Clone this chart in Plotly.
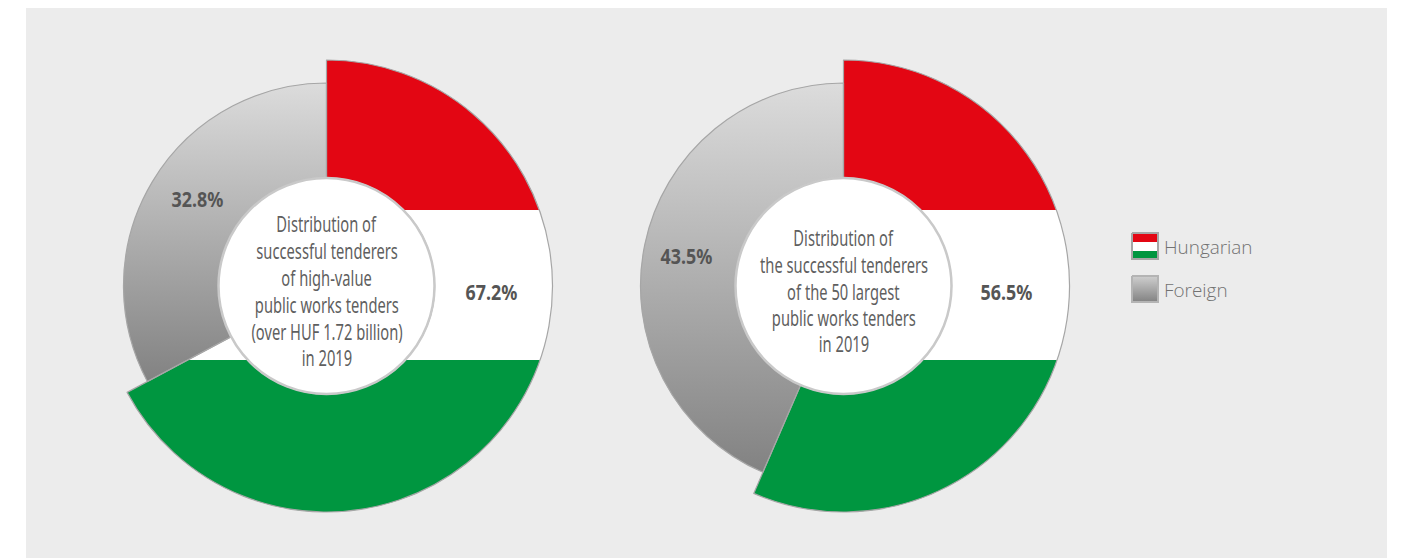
import math
import plotly.graph_objects as go

# ---- data ----
chart_names = ["high-value tenders", "50 largest tenders"]
hungarian = [67.2, 56.5]
foreign = [32.8, 43.5]
series_names = ["Hungarian", "Foreign"]
center_lines = [
    ["Distribution of", "successful tenderers", "of high-value", "public works tenders",
     "(over HUF 1.72 billion)", "in 2019"],
    ["Distribution of", "the successful tenderers", "of the 50 largest",
     "public works tenders", "in 2019"],
]
center_line_y = [
    [223.5, 250.5, 277.5, 304.5, 331.5, 357.5],
    [237.5, 264.5, 291.5, 317.5, 343.5],
]
hungarian_label_pos = [(491.5, 292), (1006, 292)]
foreign_label_pos = [(197, 199), (686.5, 256)]

# ---- layout constants (pixels) ----
W, H = 1401, 558
CX = [326.5, 843.5]
CY = 286
R_OUT = 226
R_IN = 203
R_HOLE = 108
STRIPE_TOP, STRIPE_BOTTOM = 210, 360
RED, WHITE, GREEN = "#e30613", "#ffffff", "#009640"
GRAY_TOP, GRAY_BOTTOM = "#dcdcdc", "#828282"
EDGE = "#a6a6a6"
TEXT = "#5f5f5f"
BODY_FONT = "Noto Sans"
TEXT_SQUEEZE = 0.70
PCT_SQUEEZE = 0.85


def wedge(cx, start_pct, end_pct, radius):
    """Ring sector outline from the slice's share of the whole, clockwise from 12 o'clock."""
    n = 180
    a0, a1 = start_pct * 3.6, end_pct * 3.6
    xs, ys = [], []
    for i in range(n + 1):
        a = math.radians(a0 + (a1 - a0) * i / n)
        xs.append(cx + radius * math.sin(a))
        ys.append(CY - radius * math.cos(a))
    xs.append(cx)
    ys.append(CY)
    xs.append(xs[0])
    ys.append(ys[0])
    return xs, ys


def flag_scale(top, bottom, a, b):
    f = (a - top) / (bottom - top)
    g = (b - top) / (bottom - top)
    return [[0, RED], [f, RED], [f, WHITE], [g, WHITE], [g, GREEN], [1, GREEN]]


fig = go.Figure()

for k in range(2):
    cx = CX[k]
    # foreign slice with a vertical gradient
    xs, ys = wedge(cx, hungarian[k], 100, R_IN)
    fig.add_trace(go.Scatter(
        x=xs, y=ys, mode="none", fill="toself", name=series_names[1], showlegend=False,
        hoverinfo="skip",
        fillgradient=dict(type="vertical", start=min(ys), stop=max(ys),
                          colorscale=[[0, GRAY_TOP], [1, GRAY_BOTTOM]]),
    ))
    # Hungarian slice in flag colours
    xs, ys = wedge(cx, 0, hungarian[k], R_OUT)
    fig.add_trace(go.Scatter(
        x=xs, y=ys, mode="none", fill="toself", name=series_names[0], showlegend=False,
        hoverinfo="skip",
        fillgradient=dict(type="vertical", start=CY - R_OUT, stop=CY + R_OUT,
                          colorscale=flag_scale(CY - R_OUT, CY + R_OUT, STRIPE_TOP, STRIPE_BOTTOM)),
    ))
    # pies carry the values and draw the slice outlines
    for radius, vals, widths in (
        (R_IN, [hungarian[k], foreign[k]], [0, 1.2]),
        (R_OUT, [hungarian[k], foreign[k]], [1.2, 0]),
    ):
        fig.add_trace(go.Pie(
            labels=series_names, values=vals, sort=False, direction="clockwise", rotation=0,
            hole=R_HOLE / radius, textinfo="none", hoverinfo="skip", showlegend=False,
            domain=dict(x=[(cx - radius) / W, (cx + radius) / W],
                        y=[1 - (CY + radius) / H, 1 - (CY - radius) / H]),
            marker=dict(colors=["rgba(0,0,0,0)", "rgba(0,0,0,0)"],
                        line=dict(color=EDGE, width=widths)),
        ))

# legend swatches
SW_X0, SW_X1 = 1132, 1158
SW_Y = [233, 276]
SW_H = 26
xs = [SW_X0, SW_X1, SW_X1, SW_X0, SW_X0]
y0 = SW_Y[0]
fig.add_trace(go.Scatter(
    x=xs, y=[y0, y0, y0 + SW_H, y0 + SW_H, y0], mode="lines", fill="toself", hoverinfo="skip",
    line=dict(color=EDGE, width=2), showlegend=False, name=series_names[0],
    fillgradient=dict(type="vertical", start=y0, stop=y0 + SW_H,
                      colorscale=flag_scale(y0, y0 + SW_H, y0 + 9, y0 + 18)),
))
y0 = SW_Y[1]
fig.add_trace(go.Scatter(
    x=xs, y=[y0, y0, y0 + SW_H, y0 + SW_H, y0], mode="lines", fill="toself", hoverinfo="skip",
    line=dict(color="#b4b4b4", width=2), showlegend=False, name=series_names[1],
    fillgradient=dict(type="vertical", start=y0, stop=y0 + SW_H,
                      colorscale=[[0, "#cfcfcf"], [1, GRAY_BOTTOM]]),
))

shapes = [dict(type="rect", layer="below", x0=26, x1=1387, y0=8, y1=558,
               xref="x", yref="y", fillcolor="#ececec", line_width=0)]
annotations = []


def text(x, y, s, size, color, family, bold=False, anchor="center", weight=None):
    font = dict(size=size, color=color, family=family)
    if weight:
        font["weight"] = weight
    annotations.append(dict(
        x=x, y=y, xref="x", yref="y", text=f"<b>{s}</b>" if bold else s, showarrow=False,
        xanchor=anchor, yanchor="middle", font=font,
    ))


for k in range(2):
    shapes.append(dict(type="circle", layer="above", xref="x", yref="y",
                       x0=CX[k] - R_HOLE, x1=CX[k] + R_HOLE, y0=CY - R_HOLE, y1=CY + R_HOLE,
                       fillcolor="#ffffff", line=dict(color="#c9c9c9", width=2.5)))
    for line, y in zip(center_lines[k], center_line_y[k]):
        text(CX[k], y, line, 21, TEXT, BODY_FONT)
    text(*hungarian_label_pos[k], f"{hungarian[k]:.1f}%", 21, "#555555", BODY_FONT, bold=True)
    text(*foreign_label_pos[k], f"{foreign[k]:.1f}%", 21, "#555555", BODY_FONT, bold=True)

text(1162, 247, series_names[0], 18.9, "#727272", "Open Sans", anchor="left", weight=300)
text(1162, 290, series_names[1], 18.9, "#727272", "Open Sans", anchor="left", weight=300)

axis = dict(visible=False, fixedrange=True, domain=[0, 1])
fig.update_layout(
    width=W, height=H, margin=dict(l=0, r=0, t=0, b=0, pad=0, autoexpand=False),
    paper_bgcolor="#ffffff", plot_bgcolor="rgba(0,0,0,0)", showlegend=False,
    xaxis=dict(range=[0, W], **axis), yaxis=dict(range=[H, 0], **axis),
    shapes=shapes, annotations=annotations,
)

# The reference uses a condensed face; narrow the real text glyphs to the same widths.
post = """
document.body.style.margin='0';
document.documentElement.style.overflow='hidden';
document.querySelectorAll('.annotation-text').forEach(function(t){
  var s=t.textContent;
  if(s==='%s'||s==='%s') return;
  var f=s.indexOf('%%')>=0?%s:%s;
  t.setAttribute('textLength', t.getComputedTextLength()*f);
  t.setAttribute('lengthAdjust','spacingAndGlyphs');
});
""" % (series_names[0], series_names[1], PCT_SQUEEZE, TEXT_SQUEEZE)

fig.write_html("out.html", config={"displayModeBar": False}, post_script=post)
